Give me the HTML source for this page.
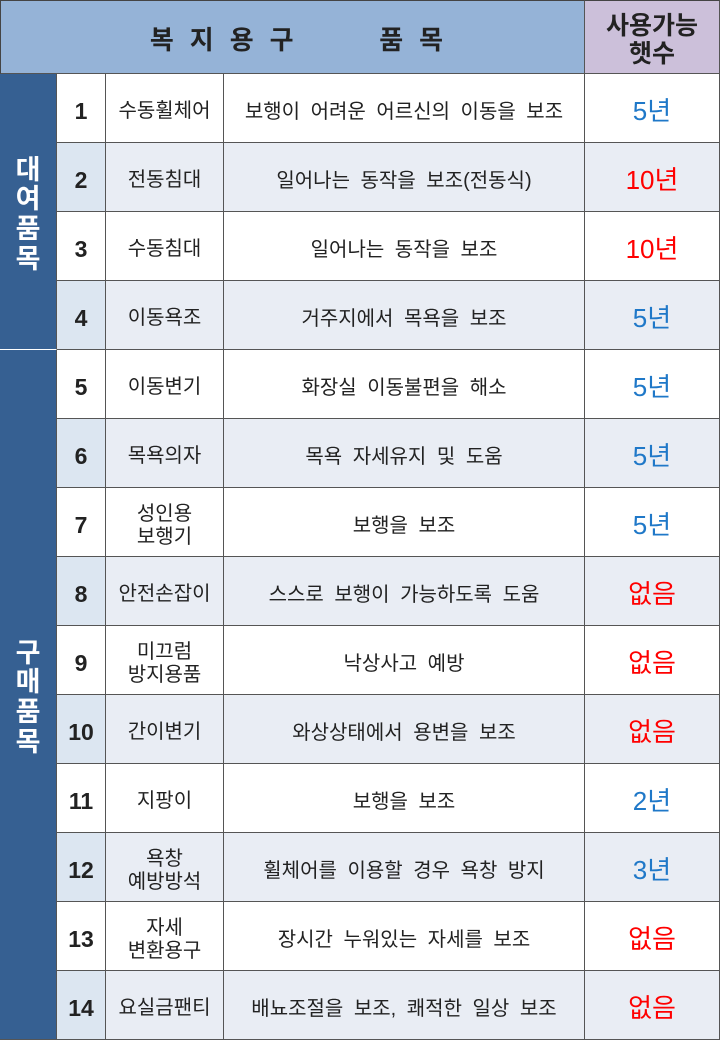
<!DOCTYPE html>
<html><head><meta charset="utf-8"><style>
body{margin:0;width:720px;height:1040px;background:#fff;font-family:"Liberation Sans","Noto Sans CJK KR",sans-serif;position:relative;overflow:hidden}
.c{position:absolute;box-sizing:border-box;display:flex;align-items:center;justify-content:center;text-align:center;border-right:1.5px solid #555;border-bottom:1.5px solid #555;color:#222;line-height:1.2;padding-top:7px}
</style></head><body>
<div class="c" style="left:0;top:0;width:585px;height:74px;background:#95b3d7;font-weight:bold;font-size:26px;letter-spacing:16px;border-left:1.5px solid #444;border-top:1.5px solid #444;white-space:pre;padding-left:24px">복지용구   품목</div>
<div class="c" style="left:585px;top:0;width:135px;height:74px;background:#ccc0da;font-weight:bold;font-size:25px;line-height:1.1;border-top:1.5px solid #444">사용가능<br>햇수</div>
<div class="c" style="left:0;top:74px;width:57px;height:276px;background:#366092;color:#fff;font-weight:bold;font-size:27px;line-height:1.1;border-bottom:1.5px solid #fff">대<br>여<br>품<br>목</div>
<div class="c" style="left:0;top:350px;width:57px;height:690px;background:#366092;color:#fff;font-weight:bold;font-size:27px;line-height:1.1">구<br>매<br>품<br>목</div>
<div id="rows"></div>
<script>
const nums=["1","2","3","4","5","6","7","8","9","10","11","12","13","14"];
const names=["수동휠체어","전동침대","수동침대","이동욕조","이동변기","목욕의자","성인용<br>보행기","안전손잡이","미끄럼<br>방지용품","간이변기","지팡이","욕창<br>예방방석","자세<br>변환용구","요실금팬티"];
const descs=["보행이 어려운 어르신의 이동을 보조","일어나는 동작을 보조(전동식)","일어나는 동작을 보조","거주지에서 목욕을 보조","화장실 이동불편을 해소","목욕 자세유지 및 도움","보행을 보조","스스로 보행이 가능하도록 도움","낙상사고 예방","와상상태에서 용변을 보조","보행을 보조","휠체어를 이용할 경우 욕창 방지","장시간 누워있는 자세를 보조","배뇨조절을 보조, 쾌적한 일상 보조"];
const years=["5년","10년","10년","5년","5년","5년","5년","없음","없음","없음","2년","3년","없음","없음"];
const root=document.body;
nums.forEach((n,i)=>{
  const top=74+i*69, h=(i==13?1040-top:69), alt=i%2==1;
  const bg=alt?'#e9edf4':'#fff';
  const cells=[
    [57,49,n,'row-number',alt?'#dce6f1':'#fff','font-weight:bold;font-size:23px'],
    [106,118,names[i],'item-name',bg,'font-size:20px;line-height:1.15'],
    [224,361,descs[i],'item-description',bg,'font-size:20px;word-spacing:5px'],
    [585,135,years[i],'usable-years',bg,'font-size:26px;color:'+(years[i]=='5년'||years[i]=='2년'||years[i]=='3년'?'#1f78c8':'#f00')]
  ];
  cells.forEach(c=>{
    const d=document.createElement('div');
    d.className='c';
    
    
    d.style.cssText=`left:${c[0]}px;top:${top}px;width:${c[1]}px;height:${h}px;background:${c[4]};${c[5]}`;
    d.innerHTML=c[2];
    root.appendChild(d);
  });
});
</script>
</body></html>
